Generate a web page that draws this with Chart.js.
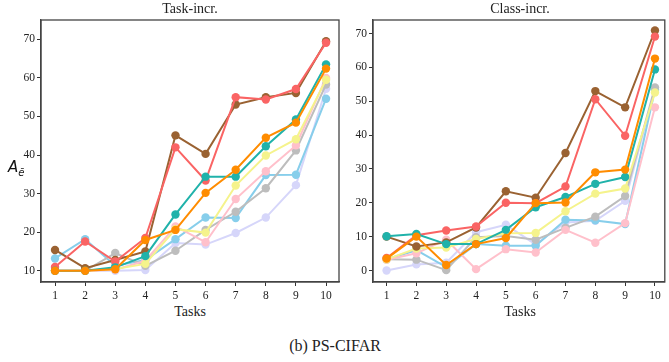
<!DOCTYPE html>
<html>
<head>
<meta charset="utf-8">
<script src="https://cdn.jsdelivr.net/npm/chart.js@4"></script>
<style>
  html, body { margin: 0; padding: 0; background: #fff; }
  #wrap { position: relative; width: 669px; height: 362px; overflow: hidden; font-family: "Liberation Serif", "Times New Roman", serif; color: #222; }
  canvas { position: absolute; top: 0; }
  .txt { position: absolute; white-space: nowrap; transform: translate(-50%, -50%); }
  .ylab { position: absolute; font-family: "DejaVu Sans", sans-serif; font-style: italic; font-size: 15px; color: #111; }
  .ylab sub { font-size: 10px; font-style: italic; }
</style>
</head>
<body>
<div id="wrap">
  <canvas id="c1"></canvas>
  <canvas id="c2"></canvas>
  <div class="txt" style="left:190px; top:9px; font-size:14px;">Task-incr.</div>
  <div class="txt" style="left:520px; top:9px; font-size:14px;">Class-incr.</div>
  <div class="txt" style="left:190px; top:312px; font-size:14px;">Tasks</div>
  <div class="txt" style="left:520px; top:312px; font-size:14px;">Tasks</div>
  <div class="txt" style="left:335px; top:346px; font-size:16px;">(b) PS-CIFAR</div>
  <div class="ylab" style="left:8px; top:158px;">A<sub>ē</sub></div>
</div>
<script>
// ---- data ----
const tasks = [1, 2, 3, 4, 5, 6, 7, 8, 9, 10];
const xTicks = [1, 2, 3, 4, 5, 6, 7, 8, 9, 10];
const yTicksTask = [10, 20, 30, 40, 50, 60, 70];
const yTicksClass = [0, 10, 20, 30, 40, 50, 60, 70];

// Task-incr. series
const taskOrange   = [10.0, 10.0, 10.4, 18.0, 20.6, 30.2, 36.2, 44.5, 48.4, 62.4];
const taskTeal     = [10.0, 10.0, 10.9, 13.8, 24.6, 34.4, 34.4, 42.3, 49.2, 63.5];
const taskRed      = [11.0, 17.6, 12.4, 18.5, 42.0, 33.4, 55.0, 54.4, 57.1, 69.1];
const taskBrown    = [15.4, 10.7, 12.8, 15.0, 45.1, 40.3, 53.1, 55.0, 56.1, 69.5];
const taskYellow   = [10.0, 10.0, 10.5, 11.8, 20.8, 19.9, 32.1, 39.9, 44.1, 59.5];
const taskPink     = [10.0, 10.0, 10.3, 12.6, 21.5, 17.4, 28.6, 35.8, 42.5, 60.0];
const taskGray     = [10.0, 10.0, 14.6, 11.3, 15.2, 20.6, 25.3, 31.4, 41.2, 58.3];
const taskSky      = [13.2, 18.2, 11.3, 12.8, 18.2, 23.8, 23.7, 34.8, 34.9, 54.6];
const taskLavender = [10.0, 10.0, 10.0, 10.2, 17.2, 16.8, 19.8, 23.8, 32.2, 57.2];

// Class-incr. series
const classOrange   = [3.5, 10.0, 1.6, 7.8, 9.6, 19.9, 20.1, 29.0, 29.8, 62.6];
const classTeal     = [10.1, 10.8, 7.8, 7.8, 12.0, 18.7, 21.7, 25.6, 27.6, 59.4];
const classRed      = [3.7, 10.4, 11.8, 13.0, 20.0, 19.9, 24.8, 50.6, 39.8, 69.1];
const classBrown    = [10.0, 7.1, 8.3, 12.7, 23.4, 21.5, 34.7, 53.0, 48.2, 70.9];
const classYellow   = [3.3, 6.5, 6.8, 9.3, 11.0, 11.1, 17.5, 22.7, 24.2, 52.6];
const classPink     = [3.2, 5.1, 9.1, 0.4, 6.3, 5.3, 12.0, 8.2, 14.0, 48.2];
const classGray     = [3.3, 3.2, 0.1, 9.8, 10.2, 9.1, 12.6, 15.9, 22.0, 54.1];
const classSky      = [3.3, 6.0, 1.0, 7.8, 7.3, 7.3, 15.0, 14.8, 13.7, 53.4];
const classLavender = [0.0, 1.8, 2.3, 11.3, 13.5, 7.7, 14.2, 14.7, 20.6, 53.4];

const colors = {
  orange: '#ff8c00', teal: '#20b2aa', red: '#fa6464', brown: '#9a6232',
  yellow: '#f5f38c', pink: '#ffc0cb', gray: '#bdbdbd', sky: '#87ceeb', lavender: '#d6d6fa'
};

function series(vals, color) {
  return {
    data: tasks.map((t, i) => ({ x: t, y: vals[i] })),
    borderColor: color, backgroundColor: color,
    pointBackgroundColor: color, pointBorderColor: color,
    borderWidth: 2, pointRadius: 4.2, pointHoverRadius: 4.2, pointBorderWidth: 0,
    tension: 0, fill: false
  };
}

const framePlugin = {
  id: 'frame',
  afterDraw(chart) {
    const a = chart.chartArea, ctx = chart.ctx;
    ctx.save();
    ctx.strokeStyle = '#444';
    ctx.lineWidth = 1.3;
    ctx.strokeRect(a.left, a.top, a.right - a.left, a.bottom - a.top);
    ctx.restore();
  }
};

function makeChart(id, leftPx, widthPx, yAxisW, padRight, xmin, xmax, ymin, ymax, yTicks, ds) {
  const cv = document.getElementById(id);
  cv.style.left = leftPx + 'px';
  cv.width = widthPx; cv.height = 300;
  cv.style.width = widthPx + 'px'; cv.style.height = '300px';
  return new Chart(cv, {
    type: 'line',
    data: { datasets: ds },
    options: {
      responsive: false, animation: false, devicePixelRatio: 1,
      layout: { padding: { top: 20, right: padRight, left: 0, bottom: 0 } },
      plugins: { legend: { display: false }, tooltip: { enabled: false }, title: { display: false } },
      scales: {
        x: {
          type: 'linear', min: xmin, max: xmax,
          afterBuildTicks: s => { s.ticks = xTicks.map(v => ({ value: v })); },
          afterFit: s => { s.height = 18; },
          grid: { drawOnChartArea: false, drawTicks: true, tickLength: 4, color: '#333', lineWidth: 1 },
          border: { display: true, color: '#444', width: 1.3 },
          ticks: { padding: 3.5, color: '#222', font: { family: 'Liberation Serif', size: 11.5 }, maxRotation: 0, autoSkip: false,
                   callback: v => String(Math.round(v)) }
        },
        y: {
          type: 'linear', min: ymin, max: ymax,
          afterBuildTicks: s => { s.ticks = yTicks.map(v => ({ value: v })); },
          afterFit: s => { s.width = yAxisW; },
          grid: { drawOnChartArea: false, drawTicks: true, tickLength: 4, color: '#333', lineWidth: 1 },
          border: { display: true, color: '#444', width: 1.3 },
          ticks: { padding: 2, color: '#222', font: { family: 'Liberation Serif', size: 11.5 },
                   callback: v => String(Math.round(v)) }
        }
      }
    },
    plugins: [framePlugin]
  });
}

makeChart('c1', 0, 345, 41, 6, 0.535, 10.43, 7.1, 75, yTicksTask, [
  series(taskOrange, colors.orange), series(taskTeal, colors.teal), series(taskRed, colors.red),
  series(taskBrown, colors.brown), series(taskYellow, colors.yellow), series(taskPink, colors.pink),
  series(taskGray, colors.gray), series(taskSky, colors.sky), series(taskLavender, colors.lavender)
]);
makeChart('c2', 334, 335, 39, 1, 0.545, 10.33, -3.4, 74, yTicksClass, [
  series(classOrange, colors.orange), series(classTeal, colors.teal), series(classRed, colors.red),
  series(classBrown, colors.brown), series(classYellow, colors.yellow), series(classPink, colors.pink),
  series(classGray, colors.gray), series(classSky, colors.sky), series(classLavender, colors.lavender)
]);
</script>
</body>
</html>
